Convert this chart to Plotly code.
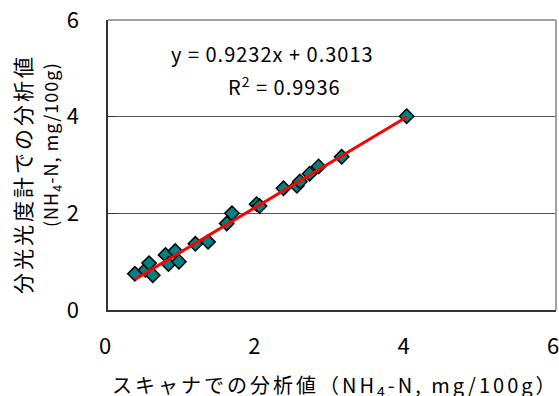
import plotly.graph_objects as go

# Data
scanner_vals = [0.36, 0.50, 0.55, 0.60, 0.77, 0.81, 0.90, 0.95, 1.17, 1.34,
                1.59, 1.66, 1.99, 2.03, 2.35, 2.53, 2.57, 2.70, 2.82, 3.13, 4.00]
spectro_vals = [0.75, 0.83, 0.97, 0.72, 1.14, 0.95, 1.22, 1.00, 1.37, 1.41,
                1.79, 2.00, 2.19, 2.15, 2.52, 2.57, 2.66, 2.82, 2.97, 3.17, 4.01]
slope = 0.9232
intercept = 0.3013
r_squared = 0.9936
tick_vals = [0, 2, 4, 6]

x_title = "スキャナでの分析値（NH<sub>4</sub>-N, mg/100g）"
y_title_1 = "分光光度計での分析値"
y_title_2 = "(NH<sub>4</sub>-N, mg/100g)"

FONT = "Noto Sans CJK JP"
NUMFONT = "Liberation Sans Narrow, Arial Narrow, Noto Sans CJK JP"

W, H = 559, 396
L, R, T, B = 108, 3, 20, 86
pw, ph = W - L - R, H - T - B

def px(x):  # screen pixel -> paper
    return (x - L) / pw

def py(y):
    return (H - B - y) / ph

fig = go.Figure()

x_min, x_max = min(scanner_vals), max(scanner_vals)
fig.add_trace(go.Scatter(
    x=scanner_vals, y=spectro_vals, mode="markers",
    marker=dict(symbol="diamond", size=11, color="#008080",
                line=dict(color="#000000", width=1.5)),
    showlegend=False, hoverinfo="skip"))
fig.add_trace(go.Scatter(
    x=[x_min, x_max],
    y=[slope * x_min + intercept, slope * x_max + intercept],
    mode="lines", line=dict(color="#FF0000", width=3),
    showlegend=False, hoverinfo="skip"))

fig.update_xaxes(range=[0, 6], tickvals=tick_vals, showgrid=False,
                 zeroline=False, showline=True, linecolor="#333333",
                 linewidth=1.5, ticks="", ticklabelstandoff=16,
                 ticklabelshift=-3,
                 automargin=False, ticklabeloverflow="allow",
                 tickfont=dict(family=NUMFONT, size=22, color="#000000"))
fig.update_yaxes(range=[0, 6], tickvals=tick_vals, showgrid=True,
                 gridcolor="#555555", gridwidth=1, zeroline=False,
                 showline=True, linecolor="#333333", linewidth=1.5,
                 ticks="inside", ticklen=8, tickcolor="#333333",
                 ticklabelstandoff=23, automargin=False,
                 ticklabeloverflow="allow",
                 tickfont=dict(family=NUMFONT, size=22, color="#000000"))

# gray plot-area border at top and right
fig.add_shape(type="line", xref="paper", yref="paper", x0=0, x1=1, y0=1, y1=1,
              line=dict(color="#a0a0a0", width=2))
fig.add_shape(type="line", xref="paper", yref="paper", x0=1, x1=1, y0=0, y1=1,
              line=dict(color="#a0a0a0", width=2))

def note(x, y, text, size, family=FONT, angle=0):
    fig.add_annotation(x=px(x), y=py(y), xref="paper", yref="paper",
                       xanchor="center", yanchor="middle",
                       text=text, showarrow=False, textangle=angle,
                       font=dict(family=family, size=size, color="#000000"))

eq_style = "letter-spacing:1px"
note(272, 53, f"<span style='{eq_style}'>y = {slope}x + {intercept}</span>", 20, NUMFONT)
note(284, 86, f"<span style='{eq_style}'>R<sup>2</sup> = {r_squared}</span>", 20, NUMFONT)
note(335, 385, f"<span style='letter-spacing:3px'>{x_title}</span>", 20)
note(22, 174, f"<span style='letter-spacing:3px'>{y_title_1}</span>", 21, angle=-90)
note(51, 145, f"<span style='letter-spacing:1px'>{y_title_2}</span>", 18, angle=-90)

fig.update_layout(width=W, height=H,
                  margin=dict(l=L, r=R, t=T, b=B, autoexpand=False),
                  paper_bgcolor="white", plot_bgcolor="white",
                  font=dict(family=FONT))

fig.write_html("out.html",
               config={"displayModeBar": False},
               post_script="document.body.style.margin='0px';"
                           "document.body.style.overflow='hidden';")
